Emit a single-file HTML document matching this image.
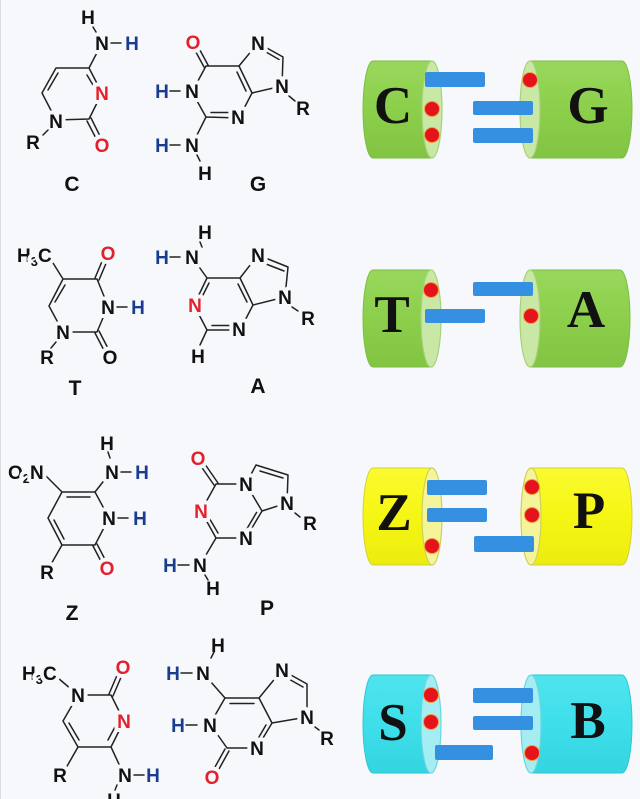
<!DOCTYPE html>
<html><head><meta charset="utf-8"><style>
html,body{margin:0;padding:0;background:#f7f8fb;}
svg{display:block;}
.bd{stroke:#222;stroke-width:1.5;fill:none;stroke-linecap:round;stroke-linejoin:round;}
.a{font-family:"Liberation Sans",Arial,sans-serif;font-weight:bold;font-size:19px;text-anchor:middle;fill:#111;stroke:#f7f8fb;stroke-width:8px;paint-order:stroke;stroke-linejoin:round;}
.s{text-anchor:start;}
.r{fill:#e3202b;}
.b{fill:#183d8e;}
.lb{font-family:"Liberation Sans",Arial,sans-serif;font-weight:bold;font-size:21px;text-anchor:middle;fill:#111;}
.big{font-family:"Liberation Serif","Times New Roman",serif;font-weight:bold;font-size:53px;text-anchor:middle;fill:#111;}
.bar{fill:#3690e2;}
.dot{fill:#e5141c;stroke:#f2a03c;stroke-width:1;}
</style></head><body>
<svg width="640" height="799" viewBox="0 0 640 799" xmlns="http://www.w3.org/2000/svg">
<defs>
<linearGradient id="gG" x1="0" y1="0" x2="0" y2="1"><stop offset="0" stop-color="#98d75c"/><stop offset="0.5" stop-color="#8ccf4b"/><stop offset="1" stop-color="#82c443"/></linearGradient>
<linearGradient id="gY" x1="0" y1="0" x2="0" y2="1"><stop offset="0" stop-color="#fafa30"/><stop offset="0.5" stop-color="#f6f614"/><stop offset="1" stop-color="#ecec10"/></linearGradient>
<linearGradient id="gC" x1="0" y1="0" x2="0" y2="1"><stop offset="0" stop-color="#4fe4ee"/><stop offset="0.5" stop-color="#3edfea"/><stop offset="1" stop-color="#34d4e0"/></linearGradient>
</defs>
<rect x="0" y="0" width="640" height="799" fill="#f7f8fb"/>
<rect x="0" y="0" width="1" height="799" fill="#dcdde0"/>

<!-- ================= CYLINDERS ================= -->
<!-- Row 1 C-G -->
<g>
<path d="M373,61 L432,61 L432,158 L373,158 A10,48.5 0 0 1 373,61 Z" fill="url(#gG)" stroke="#7cbd42" stroke-width="1"/>
<ellipse cx="432" cy="109.5" rx="10" ry="48.5" fill="#c9e8a6" stroke="#a6d27a" stroke-width="1.2"/>
<path d="M530,61 L622,61 A10,48.5 0 0 1 622,158 L530,158 Z" fill="url(#gG)" stroke="#7cbd42" stroke-width="1"/>
<ellipse cx="530" cy="109.5" rx="10" ry="48.5" fill="#c9e8a6" stroke="#a6d27a" stroke-width="1.2"/>
<text class="big" x="393" y="123">C</text>
<text class="big" x="588" y="123">G</text>
<rect class="bar" x="425" y="72" width="60" height="15" rx="2"/>
<rect class="bar" x="473" y="101" width="60" height="14" rx="2"/>
<rect class="bar" x="473" y="128" width="60" height="15" rx="2"/>
<circle class="dot" cx="432" cy="109" r="7.5"/>
<circle class="dot" cx="432" cy="135" r="7.5"/>
<circle class="dot" cx="530" cy="80" r="7.5"/>
</g>
<!-- Row 2 T-A -->
<g>
<path d="M373,270 L432,270 L432,367 L373,367 A10,48.5 0 0 1 373,270 Z" fill="url(#gG)" stroke="#7cbd42" stroke-width="1"/>
<ellipse cx="431" cy="318.5" rx="10" ry="48.5" fill="#c9e8a6" stroke="#a6d27a" stroke-width="1.2"/>
<path d="M530,270 L620,270 A10,48.5 0 0 1 620,367 L530,367 Z" fill="url(#gG)" stroke="#7cbd42" stroke-width="1"/>
<ellipse cx="530" cy="318.5" rx="10" ry="48.5" fill="#c9e8a6" stroke="#a6d27a" stroke-width="1.2"/>
<text class="big" x="392" y="332">T</text>
<text class="big" x="586" y="327">A</text>
<rect class="bar" x="473" y="282" width="60" height="14" rx="2"/>
<rect class="bar" x="425" y="309" width="60" height="14" rx="2"/>
<circle class="dot" cx="431" cy="290" r="7.5"/>
<circle class="dot" cx="531" cy="316" r="7.5"/>
</g>
<!-- Row 3 Z-P -->
<g>
<path d="M373,468 L432,468 L432,565 L373,565 A10,48.5 0 0 1 373,468 Z" fill="url(#gY)" stroke="#d2d23a" stroke-width="1"/>
<ellipse cx="432" cy="516.5" rx="10" ry="48.5" fill="#f4f49a" stroke="#cfcf5a" stroke-width="1.2"/>
<path d="M531,468 L622,468 A10,48.5 0 0 1 622,565 L531,565 Z" fill="url(#gY)" stroke="#d2d23a" stroke-width="1"/>
<ellipse cx="531" cy="516.5" rx="10" ry="48.5" fill="#f4f49a" stroke="#cfcf5a" stroke-width="1.2"/>
<text class="big" x="394" y="530">Z</text>
<text class="big" x="589" y="528">P</text>
<rect class="bar" x="427" y="480" width="60" height="15" rx="2"/>
<rect class="bar" x="427" y="508" width="60" height="14" rx="2"/>
<rect class="bar" x="474" y="536" width="60" height="16" rx="2"/>
<circle class="dot" cx="432" cy="546" r="7.5"/>
<circle class="dot" cx="532" cy="487" r="7.5"/>
<circle class="dot" cx="532" cy="515" r="7.5"/>
</g>
<!-- Row 4 S-B -->
<g>
<path d="M373,675 L432,675 L432,773 L373,773 A10,49 0 0 1 373,675 Z" fill="url(#gC)" stroke="#2fc6d2" stroke-width="1"/>
<ellipse cx="431" cy="724" rx="10" ry="49" fill="#a4edf3" stroke="#6ad6df" stroke-width="1.2"/>
<path d="M531,675 L622,675 A10,49 0 0 1 622,773 L531,773 Z" fill="url(#gC)" stroke="#2fc6d2" stroke-width="1"/>
<ellipse cx="531" cy="724" rx="10" ry="49" fill="#a4edf3" stroke="#6ad6df" stroke-width="1.2"/>
<text class="big" x="393" y="740">S</text>
<text class="big" x="588" y="738">B</text>
<rect class="bar" x="473" y="688" width="60" height="15" rx="2"/>
<rect class="bar" x="473" y="716" width="60" height="14" rx="2"/>
<rect class="bar" x="435" y="745" width="58" height="15" rx="2"/>
<circle class="dot" cx="431" cy="695" r="7.5"/>
<circle class="dot" cx="431" cy="722" r="7.5"/>
<circle class="dot" cx="532" cy="753" r="7.5"/>
</g>

<!-- ================= CYTOSINE ================= -->
<path class="bd" d="M56,68 L89,68 L102,93 L89,119 L56,120 L42,93 Z M87,75 L96,90 M48,90 L58,73 M87,121 L100,146 M91,118 L104,144 M89,68 L102,43"/>
<text class="a" x="88" y="24">H</text>
<text class="a" x="102" y="50">N</text>
<text class="a b" x="132" y="50">H</text>
<text class="a r" x="102" y="100">N</text>
<text class="a" x="56" y="128">N</text>
<text class="a" x="33" y="149">R</text>
<text class="a r" x="102" y="152">O</text>
<path class="bd" d="M93,27 L96,32 M111,43 L121,43 M48,130 L43,135"/>
<text class="lb" x="72" y="191">C</text>

<!-- ================= GUANINE ================= -->
<path class="bd" d="M206,66 L239,66 L252,93 L239,118 L206,117 L192,92 Z M237,72 L246,91 M211,112.5 L230,112.5 M208,65 L195,41 M204,67 L191,43 M239,66 L258,43 M258,43 L283,57 M266,52 L279,59.5 M283,57 L282,86 L252,93 M206,117 L192,145"/>
<text class="a r" x="193" y="49">O</text>
<text class="a" x="258" y="50">N</text>
<text class="a" x="282" y="93">N</text>
<text class="a" x="303" y="115">R</text>
<text class="a" x="192" y="98">N</text>
<text class="a b" x="162" y="98">H</text>
<text class="a" x="238" y="124">N</text>
<text class="a" x="192" y="152">N</text>
<text class="a b" x="162" y="152">H</text>
<text class="a" x="205" y="180">H</text>
<path class="bd" d="M170,91 L180,91 M170,145 L180,145 M197,155 L200,161 M289,96 L295,101"/>
<text class="lb" x="258" y="191">G</text>

<!-- ================= THYMINE ================= -->
<path class="bd" d="M63,279 L97,279 L108,306 L97,332 L63,332 L49,306 Z M55,302 L65,285 M95,278 L106,252 M99,280 L110,254 M63,279 L53,263 M95,333 L108,358 M99,331 L112,356"/>
<text class="a s" x="17" y="262">H<tspan font-size="13" dy="4">3</tspan><tspan dy="-4">C</tspan></text>
<text class="a r" x="108" y="260">O</text>
<text class="a" x="108" y="314">N</text>
<text class="a b" x="138" y="314">H</text>
<text class="a" x="63" y="339">N</text>
<text class="a" x="47" y="364">R</text>
<text class="a" x="110" y="364">O</text>
<path class="bd" d="M117,307 L127,307 M56,342 L51,348"/>
<text class="lb" x="75" y="395">T</text>

<!-- ================= ADENINE ================= -->
<path class="bd" d="M207,278 L240,278 L253,305 L240,330 L207,330 L194,305 Z M209,283 L202,297 M212,325.5 L231,325.5 M238,284 L247,302 M240,278 L258,255 L288,267 M266,264 L284,271 M288,267 L285,297 L253,305 M207,278 L192,257 M207,330 L200,345"/>
<text class="a" x="205" y="239">H</text>
<text class="a b" x="162" y="264">H</text>
<text class="a" x="192" y="264">N</text>
<text class="a r" x="195" y="312">N</text>
<text class="a" x="239" y="336">N</text>
<text class="a" x="198" y="363">H</text>
<text class="a" x="258" y="262">N</text>
<text class="a" x="285" y="304">N</text>
<text class="a" x="308" y="325">R</text>
<path class="bd" d="M200,242 L202,247 M170,257 L180,257 M292,307 L298,311"/>
<text class="lb" x="258" y="393">A</text>

<!-- ================= Z ================= -->
<path class="bd" d="M62,492 L95,492 L109,518 L95,545 L62,545 L48,518 Z M67,497 L90,497 M54,520 L64,539 M62,492 L46,476 M95,492 L110,473 M93,546 L105,569 M97,544 L109,567 M62,545 L50,566"/>
<text class="a s" x="8" y="479">O<tspan font-size="13" dy="4">2</tspan><tspan dy="-4">N</tspan></text>
<text class="a" x="107" y="450">H</text>
<text class="a" x="112" y="479">N</text>
<text class="a b" x="142" y="479">H</text>
<text class="a" x="109" y="525">N</text>
<text class="a b" x="140" y="525">H</text>
<text class="a" x="47" y="579">R</text>
<text class="a r" x="107" y="575">O</text>
<path class="bd" d="M108,452 L110,458 M121,472 L131,472 M118,518 L128,518"/>
<text class="lb" x="72" y="620">Z</text>

<!-- ================= P ================= -->
<path class="bd" d="M216,484 L246,484 L262,511 L246,538 L216,538 L201,511 Z M208,516 L218,533 M256.6,512.4 L246.7,529.1 M218,483 L200,457 M214,485 L196,459 M246,484 L256,465 L288,475 L287,503 L262,511 M260,471 L283,478 M216,538 L200,565"/>
<text class="a r" x="198" y="465">O</text>
<text class="a" x="246" y="491">N</text>
<text class="a r" x="201" y="518">N</text>
<text class="a" x="246" y="545">N</text>
<text class="a" x="287" y="510">N</text>
<text class="a" x="310" y="530">R</text>
<text class="a" x="200" y="572">N</text>
<text class="a b" x="170" y="572">H</text>
<text class="a" x="213" y="595">H</text>
<path class="bd" d="M178,565 L189,565 M205,575 L208,580 M295,513 L300,517"/>
<text class="lb" x="267" y="615">P</text>

<!-- ================= S ================= -->
<path class="bd" d="M78,695 L111,695 L124,721 L111,747 L78,747 L63,721 Z M109,694 L121,666 M113,696 L125,668 M108,740 L116,725 M69,723 L79,740 M78,695 L58,678 M111,747 L124,775 M78,747 L62,775"/>
<text class="a s" x="22" y="680">H<tspan font-size="13" dy="4">3</tspan><tspan dy="-4">C</tspan></text>
<text class="a r" x="123" y="674">O</text>
<text class="a" x="78" y="702">N</text>
<text class="a r" x="124" y="728">N</text>
<text class="a" x="125" y="782">N</text>
<text class="a b" x="153" y="782">H</text>
<text class="a" x="60" y="782">R</text>
<text class="a" x="114" y="807">H</text>
<path class="bd" d="M134,775 L144,775 M117,785 L115,790"/>

<!-- ================= B ================= -->
<path class="bd" d="M225,698 L259,698 L272,723 L257,748 L227,748 L210,724 Z M230,703.5 L254,703.5 M266,725 L259,737 M225,749 L210,776 M229,751 L214,778 M225,698 L203,673 M259,698 L282,670 L307,684 L307,717 L272,723 M287,678 L303,687"/>
<text class="a" x="218" y="652">H</text>
<text class="a b" x="173" y="680">H</text>
<text class="a" x="203" y="680">N</text>
<text class="a" x="210" y="732">N</text>
<text class="a b" x="178" y="732">H</text>
<text class="a" x="257" y="755">N</text>
<text class="a r" x="212" y="784">O</text>
<text class="a" x="282" y="677">N</text>
<text class="a" x="307" y="724">N</text>
<text class="a" x="327" y="745">R</text>
<path class="bd" d="M214,652 L211,658 M181,673 L192,673 M186,725 L197,725 M315,727 L319,730"/>
</svg>
</body></html>
